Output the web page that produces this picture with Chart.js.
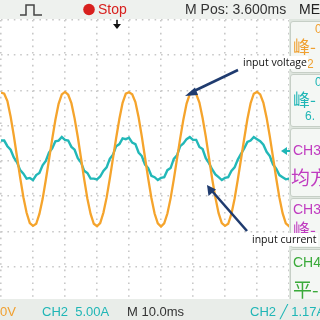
<!DOCTYPE html>
<html><head><meta charset="utf-8">
<script src="https://cdn.jsdelivr.net/npm/chart.js@4"></script>
<style>
html,body{margin:0;padding:0;background:#fff;width:320px;height:320px;overflow:hidden;font-family:"Liberation Sans Narrow","Liberation Sans",sans-serif}
#wrap{position:absolute;left:0;top:0;width:320px;height:320px;overflow:hidden}
#c{position:absolute;left:0;top:0}
.abs{position:absolute;white-space:nowrap}
#hdr{position:absolute;left:0;top:0;width:320px;height:19px;background:#eef1ee}
#ftr{position:absolute;left:0;top:299px;width:320px;height:21px;background:#e9ede9}
#panel{position:absolute;left:289px;top:19px;width:31px;height:280px;background:#dfe6df;overflow:hidden}
.box{position:absolute;left:1px;width:40px;background:#f4f7f4;border:1px solid #c6cfc6;border-radius:3px;overflow:hidden}
.cjk{font-family:"Noto Sans CJK SC",sans-serif}
.lbl{position:absolute;background:#fff;font-family:"Open Sans",sans-serif;font-size:10.5px;color:#111;line-height:13px;padding:0 1px}
</style></head>
<body>
<div id="wrap">
<canvas id="c" width="340" height="320"></canvas>
<div id="hdr"></div>
<div id="ftr"></div>
<svg class="abs" style="left:0;top:0" width="320" height="320">
  <polyline points="20,15 26,15 26,5 34,5 34,15 42,15" fill="none" stroke="#444" stroke-width="1.5"/>
  <circle cx="89" cy="9.5" r="5.8" fill="#d8201e"/>
  <line x1="117" y1="20" x2="117" y2="25" stroke="#111" stroke-width="1.6"/>
  <polygon points="113,24 121,24 117,29" fill="#111"/>
</svg>
<div class="abs" style="left:98px;top:1px;font-size:14px;color:#d8201e">Stop</div>
<div class="abs" style="left:185px;top:1px;font-size:14px;color:#333">M Pos: 3.600ms</div>
<div class="abs" style="left:299px;top:1px;font-size:14px;color:#222">MEA</div>
<div class="abs" style="left:0px;top:304px;font-size:13px;color:#f0a030">0V</div>
<div class="abs" style="left:42px;top:304px;font-size:13px;color:#1fb6b6">CH2&nbsp;&nbsp;5.00A</div>
<div class="abs" style="left:127px;top:304px;font-size:13px;color:#333">M 10.0ms</div>
<div class="abs" style="left:250px;top:304px;font-size:13px;color:#1fb6b6">CH2 ╱ 1.17A</div>
<div id="panel">
  <div class="box" style="top:2px;height:50px">
    <div class="abs" style="left:24px;top:0px;font-size:12px;color:#f0a030">0</div>
    <div class="abs cjk" style="left:2px;top:14px;font-size:17px;line-height:20px;color:#f0a030">峰-</div>
    <div class="abs" style="left:16px;top:35px;font-size:12px;color:#f0a030">2</div>
  </div>
  <div class="box" style="top:55px;height:51px">
    <div class="abs" style="left:24px;top:0px;font-size:12px;color:#1fb6b6">0</div>
    <div class="abs cjk" style="left:2px;top:14px;font-size:17px;line-height:20px;color:#1fb6b6">峰-</div>
    <div class="abs" style="left:14px;top:34px;font-size:12px;color:#1fb6b6">6.</div>
  </div>
  <div class="box" style="top:109px;height:67px">
    <div class="abs" style="left:2px;top:13px;font-size:14px;color:#c03cc0">CH3</div>
    <div class="abs cjk" style="left:0px;top:36px;font-size:19px;line-height:24px;color:#c03cc0">均方根</div>
  </div>
  <div class="box" style="top:179px;height:48px">
    <div class="abs" style="left:2px;top:2px;font-size:14px;color:#c03cc0">CH3</div>
    <div class="abs cjk" style="left:2px;top:19px;font-size:17px;line-height:22px;color:#c03cc0">峰-</div>
  </div>
  <div class="box" style="top:230px;height:60px">
    <div class="abs" style="left:2px;top:4px;font-size:14px;color:#3aaa3a">CH4</div>
    <div class="abs cjk" style="left:2px;top:27px;font-size:19px;line-height:24px;color:#3aaa3a">平-</div>
  </div>
</div>
<svg class="abs" style="left:0;top:0" width="320" height="320">
  <line x1="290" y1="151" x2="284" y2="151" stroke="#1fb6b6" stroke-width="2"/>
  <polygon points="281,151 287,147 287,155" fill="#1fb6b6"/>
  <line x1="238" y1="70" x2="192" y2="92" stroke="#1f3b6f" stroke-width="2.6"/>
  <polygon points="185,96 195,87.5 198,95" fill="#1f3b6f"/>
  <line x1="247" y1="231" x2="212" y2="191" stroke="#1f3b6f" stroke-width="2.6"/>
  <polygon points="207,185 208.5,196 216,189.5" fill="#1f3b6f"/>
</svg>
<div class="lbl" style="left:242px;top:56px">input voltage</div>
<div class="lbl" style="left:251px;top:233px">input current</div>
</div>
<script>
// sample times (ms), 10 ms/div
const timeMs = [0,1,2,3,4,5,6,7,8,9,10,11,12,13,14,15,16,17,18,19,20,21,22,23,24,25,26,27,28,29,30,31,32,33,34,35,36,37,38,39,40,41,42,43,44,45,46,47,48,49,50,51,52,53,54,55,56,57,58,59,60,61,62,63,64,65,66,67,68,69,70,71,72,73,74,75,76,77,78,79,80,81,82,83,84,85,86,87,88,89,90,91,92];
// CH1 input voltage (V), 100 V/div
const inputVoltage = [194,191,170,126,72,12,-48,-103,-147,-176,-184,-178,-150,-108,-54,4,62,117,162,189,196,188,164,121,68,8,-52,-107,-150,-178,-185,-176,-147,-104,-50,8,66,120,165,191,195,189,167,124,70,10,-50,-105,-149,-177,-186,-177,-149,-106,-52,6,64,118,163,190,197,190,166,122,69,9,-51,-104,-148,-176,-184,-178,-150,-107,-53,5,63,119,164,191,196,189,165,123,70,11,-49,-104,-148,-177,-185,-177,-148];
// CH2 input current (A), 5 A/div
const inputCurrent = [2.9,2.9,2.1,1.6,0.5,-0.2,-1.3,-1.8,-2.5,-2.4,-2.7,-2.0,-1.7,-0.6,0.0,1.2,1.8,2.8,2.9,3.4,3.0,2.9,2.0,1.6,0.4,-0.2,-1.4,-1.7,-2.5,-2.5,-2.6,-2.2,-1.4,-0.9,0.3,0.9,2.1,2.4,3.2,3.1,3.3,2.6,2.4,1.2,0.7,-0.5,-1.0,-2.1,-2.3,-2.7,-2.4,-2.3,-1.3,-1.0,0.3,0.8,2.1,2.5,3.1,3.4,3.0,3.0,2.0,1.7,0.4,-0.3,-1.2,-1.9,-2.3,-2.7,-2.4,-2.3,-1.4,-0.9,0.2,1.0,1.8,2.7,2.9,3.4,3.1,2.8,2.3,1.3,0.7,-0.5,-1.1,-2.0,-2.3,-2.6,-2.5,-2.2,-1.4];

const voltPts = timeMs.map((t,i)=>({x:t,y:inputVoltage[i]}));
const currPts = timeMs.map((t,i)=>({x:t,y:inputCurrent[i]}));

new Chart(document.getElementById('c'), {
  type: 'line',
  data: { datasets: [
    {label:'input voltage', data: voltPts, yAxisID:'y', borderColor:'#f5a42c', borderWidth:2.3, pointRadius:0, tension:0, fill:false},
    {label:'input current', data: currPts, yAxisID:'y2', borderColor:'#22b8b8', borderWidth:2.4, pointRadius:0, tension:0, fill:false}
  ]},
  options: {
    responsive:false, animation:false, events:[],
    layout:{padding:{left:1,right:19,top:20,bottom:18}},
    plugins:{legend:{display:false},tooltip:{enabled:false}},
    scales:{
      x:{type:'linear',min:0,max:100,ticks:{display:false,stepSize:10},
         grid:{color:'#c8c8c8',lineWidth:1.6,drawTicks:false},border:{display:false,dash:[1.6,4.8]}},
      y:{type:'linear',min:-400,max:400,ticks:{display:false,stepSize:100},
         grid:{color:'#c8c8c8',lineWidth:1.6,drawTicks:false},border:{display:false,dash:[1.6,4.8]}},
      y2:{type:'linear',min:-20,max:20,display:false}
    }
  }
});
</script>
</body></html>
